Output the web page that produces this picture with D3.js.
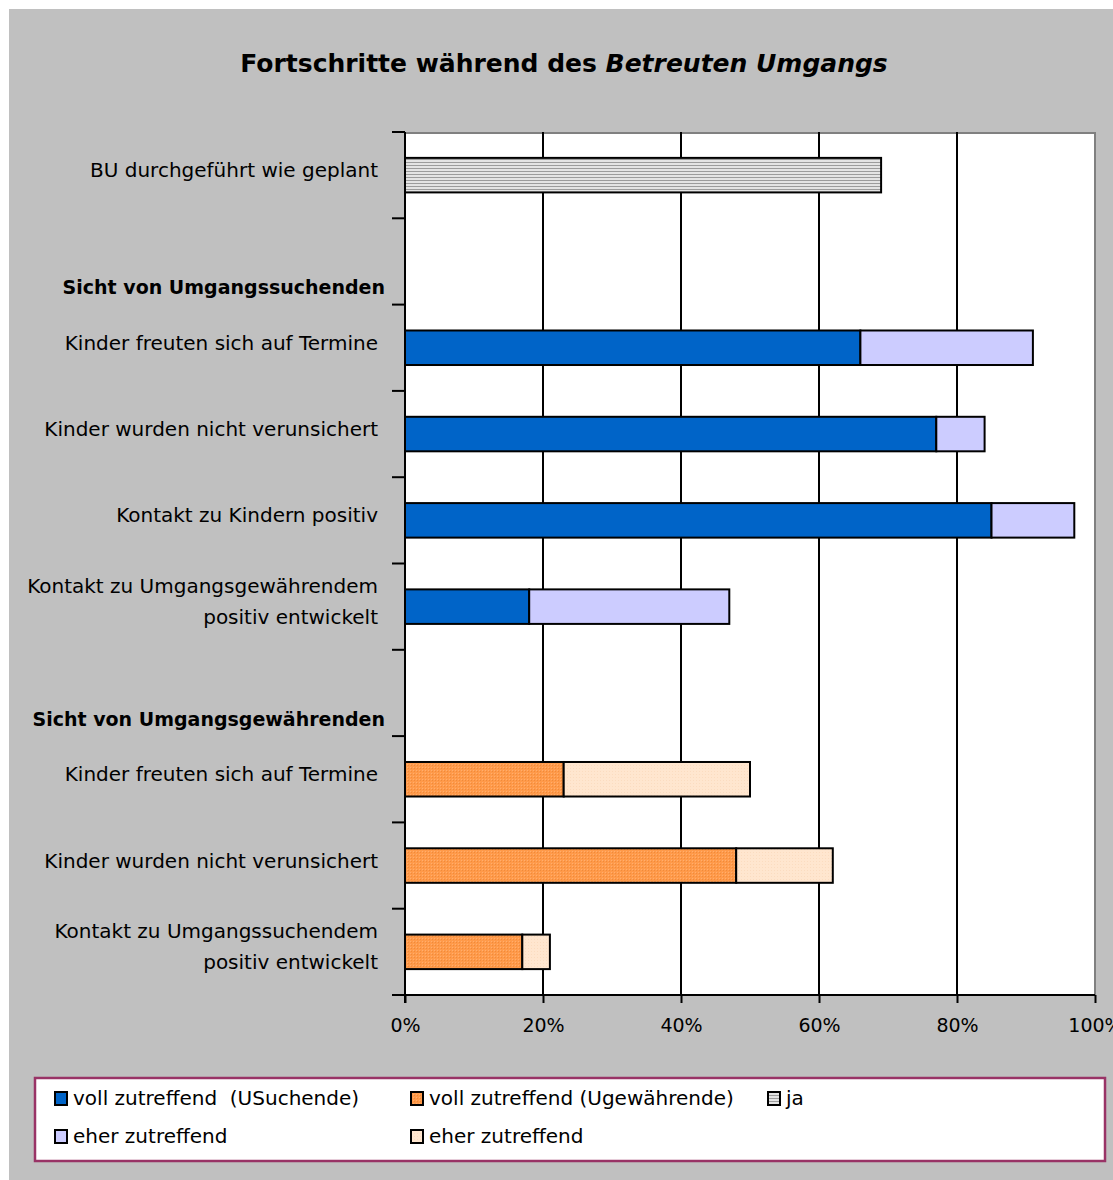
<!DOCTYPE html>
<html>
<head>
<meta charset="utf-8">
<script src="https://cdn.jsdelivr.net/npm/d3@7"></script>
<style>
body { margin:0; background:#ffffff; }
text { font-family: "DejaVu Sans", sans-serif; }
</style>
</head>
<body>
<div id="chart"></div>
<script>
// categories (top to bottom); empty strings in labels are blank lines as in the original sheet
var categories = ["bu", "head1", "us1", "us2", "us3", "us4", "head2", "ug1", "ug2", "ug3"];
var labels = [
	["BU durchgeführt wie geplant"],
	["", "", "Sicht von Umgangssuchenden"],
	["Kinder freuten sich auf Termine"],
	["Kinder wurden nicht verunsichert"],
	["Kontakt zu Kindern positiv"],
	["Kontakt zu Umgangsgewährendem", "positiv entwickelt"],
	["", "", "Sicht von Umgangsgewährenden"],
	["Kinder freuten sich auf Termine"],
	["Kinder wurden nicht verunsichert"],
	["Kontakt zu Umgangssuchendem", "positiv entwickelt"]
];
var boldRows = ["head1", "head2"];

// series values in percent
var ja        = [69, 0, 0, 0, 0, 0, 0, 0, 0, 0];
var vollUS    = [0, 0, 66, 77, 85, 18, 0, 0, 0, 0];
var eherUS    = [0, 0, 25, 7, 12, 29, 0, 0, 0, 0];
var vollUG    = [0, 0, 0, 0, 0, 0, 0, 23, 48, 17];
var eherUG    = [0, 0, 0, 0, 0, 0, 0, 27, 14, 4];

var seriesNames = ["voll zutreffend  (USuchende)", "voll zutreffend (Ugewährende)", "ja", "eher zutreffend", "eher zutreffend"];
var xTicks = [0, 20, 40, 60, 80, 100];

var width = 1113, height = 1180;
var plot = {left:405, right:1095, top:132, bottom:995};

var svg = d3.select("#chart").append("svg")
	.attr("width", width)
	.attr("height", height);

var defs = svg.append("defs");

// striped grey for "ja"
var pStripe = defs.append("pattern").attr("id","stripe")
	.attr("width",6).attr("height",3).attr("patternUnits","userSpaceOnUse");
pStripe.append("rect").attr("width",6).attr("height",3).attr("fill","#e4e4e4");
pStripe.append("rect").attr("width",6).attr("height",1).attr("fill","#9c9c9c");

// fine dotted orange
var pOrange = defs.append("pattern").attr("id","orange")
	.attr("width",3).attr("height",3).attr("patternUnits","userSpaceOnUse");
pOrange.append("rect").attr("width",3).attr("height",3).attr("fill","#ff9a4a");
pOrange.append("rect").attr("width",1).attr("height",1).attr("fill","#f08a3a");
pOrange.append("rect").attr("x",2).attr("y",2).attr("width",1).attr("height",1).attr("fill","#ffae6e");

var pPeach = defs.append("pattern").attr("id","peach")
	.attr("width",3).attr("height",3).attr("patternUnits","userSpaceOnUse");
pPeach.append("rect").attr("width",3).attr("height",3).attr("fill","#ffe6cf");
pPeach.append("rect").attr("width",1).attr("height",1).attr("fill","#fbdcc0");

var fills = {vollUS:"#0064c8", eherUS:"#ccccff", vollUG:"url(#orange)", eherUG:"url(#peach)", ja:"url(#stripe)"};

// backgrounds
svg.append("rect").attr("x",9).attr("y",9).attr("width",width-9).attr("height",height-9).attr("fill","#c0c0c0");

var x = d3.scaleLinear().domain([0,100]).range([plot.left, plot.right]);
var y = d3.scaleBand().domain(categories).range([plot.top, plot.bottom])
	.paddingInner(0.6).paddingOuter(0.3);

svg.append("rect")
	.attr("x",plot.left).attr("y",plot.top)
	.attr("width",plot.right-plot.left).attr("height",plot.bottom-plot.top)
	.attr("fill","#ffffff");

// grey frame top and right
svg.append("path")
	.attr("d","M"+plot.left+","+(plot.top+1)+"H"+(plot.right)+"V"+plot.bottom)
	.attr("fill","none").attr("stroke","#808080").attr("stroke-width",2);

// vertical gridlines
svg.selectAll(".grid").data(xTicks.slice(1,-1)).enter().append("line")
	.attr("class","grid")
	.attr("x1",function(d){return x(d);}).attr("x2",function(d){return x(d);})
	.attr("y1",plot.top).attr("y2",plot.bottom)
	.attr("stroke","#000").attr("stroke-width",2);

// bars
function drawSeries(values, fill, base) {
	svg.append("g").selectAll("rect").data(categories).enter()
		.filter(function(d,i){ return values[i] > 0; })
		.append("rect")
		.attr("x",function(d){ var i = categories.indexOf(d); return x(base ? base[i] : 0); })
		.attr("y",function(d){ return y(d); })
		.attr("width",function(d){ var i = categories.indexOf(d); return x(values[i]) - x(0); })
		.attr("height",y.bandwidth())
		.attr("fill",fill)
		.attr("stroke","#000").attr("stroke-width",2);
}
drawSeries(ja, fills.ja);
drawSeries(vollUS, fills.vollUS);
drawSeries(eherUS, fills.eherUS, vollUS);
drawSeries(vollUG, fills.vollUG);
drawSeries(eherUG, fills.eherUG, vollUG);

// x axis
var xAxis = d3.axisBottom(x).tickValues(xTicks)
	.tickFormat(function(d){ return d + "%"; })
	.tickSize(8).tickPadding(16);
var gx = svg.append("g").attr("transform","translate(0,"+plot.bottom+")").call(xAxis);
gx.select(".domain").remove();
gx.append("line").attr("x1",plot.left-13).attr("x2",plot.right).attr("y1",0).attr("y2",0)
	.attr("stroke","#000").attr("stroke-width",2);
gx.selectAll(".tick line").attr("stroke","#000").attr("stroke-width",2);
gx.selectAll(".tick text").attr("fill","#000")
	.style("font-size","19px").style("font-family","DejaVu Sans, sans-serif");

// y axis line and ticks at category borders
var step = y.step();
svg.append("line").attr("x1",plot.left).attr("x2",plot.left)
	.attr("y1",plot.top).attr("y2",plot.bottom+8)
	.attr("stroke","#000").attr("stroke-width",2);
svg.selectAll(".ytick").data(categories).enter().append("line")
	.attr("class","ytick")
	.attr("x1",plot.left-13).attr("x2",plot.left)
	.attr("y1",function(d){ return y(d) + y.bandwidth()/2 - step/2; })
	.attr("y2",function(d){ return y(d) + y.bandwidth()/2 - step/2; })
	.attr("stroke","#000").attr("stroke-width",2);

// category labels, one text per line, blank lines kept as offsets
var lineH = 31;
categories.forEach(function(c, i) {
	var lines = labels[i];
	var bold = boldRows.indexOf(c) >= 0;
	var cy = y(c) + y.bandwidth()/2 - 5;
	var y0 = cy - (lines.length-1)*lineH/2;
	lines.forEach(function(l, j) {
		if (!l) return;
		svg.append("text")
			.attr("text-anchor","end")
			.attr("x", bold ? 385 : 378)
			.attr("y", y0 + j*lineH)
			.attr("dy","0.35em")
			.style("font-size", bold ? "19px" : "20px")
			.style("font-weight", bold ? "bold" : "normal")
			.attr("fill","#000")
			.text(l);
	});
});

// title
var title = svg.append("text")
	.attr("x",564).attr("y",63).attr("dy","0.35em")
	.attr("text-anchor","middle")
	.style("font-size","25px").style("font-weight","bold")
	.attr("fill","#000");
title.append("tspan").text("Fortschritte während des ");
title.append("tspan").style("font-style","italic").text("Betreuten Umgangs");

// legend
svg.append("rect").attr("x",35).attr("y",1078).attr("width",1070).attr("height",83)
	.attr("fill","#fff").attr("stroke","#993366").attr("stroke-width",2.5);

var legendItems = [
	{name:seriesNames[0], fill:fills.vollUS, x:55, y:1098},
	{name:seriesNames[1], fill:fills.vollUG, x:411, y:1098},
	{name:seriesNames[2], fill:fills.ja, x:768, y:1098},
	{name:seriesNames[3], fill:fills.eherUS, x:55, y:1136},
	{name:seriesNames[4], fill:fills.eherUG, x:411, y:1136}
];
var lg = svg.selectAll(".legend").data(legendItems).enter().append("g")
	.attr("class","legend")
	.attr("transform",function(d){ return "translate("+d.x+","+d.y+")"; });
lg.append("rect").attr("x",0).attr("y",-6).attr("width",12).attr("height",13)
	.attr("fill",function(d){ return d.fill; })
	.attr("stroke","#000").attr("stroke-width",2);
lg.append("text").attr("x",18).attr("dy","0.35em")
	.style("font-size","20px").style("white-space","pre").attr("fill","#000")
	.text(function(d){ return d.name; });
</script>
</body>
</html>
